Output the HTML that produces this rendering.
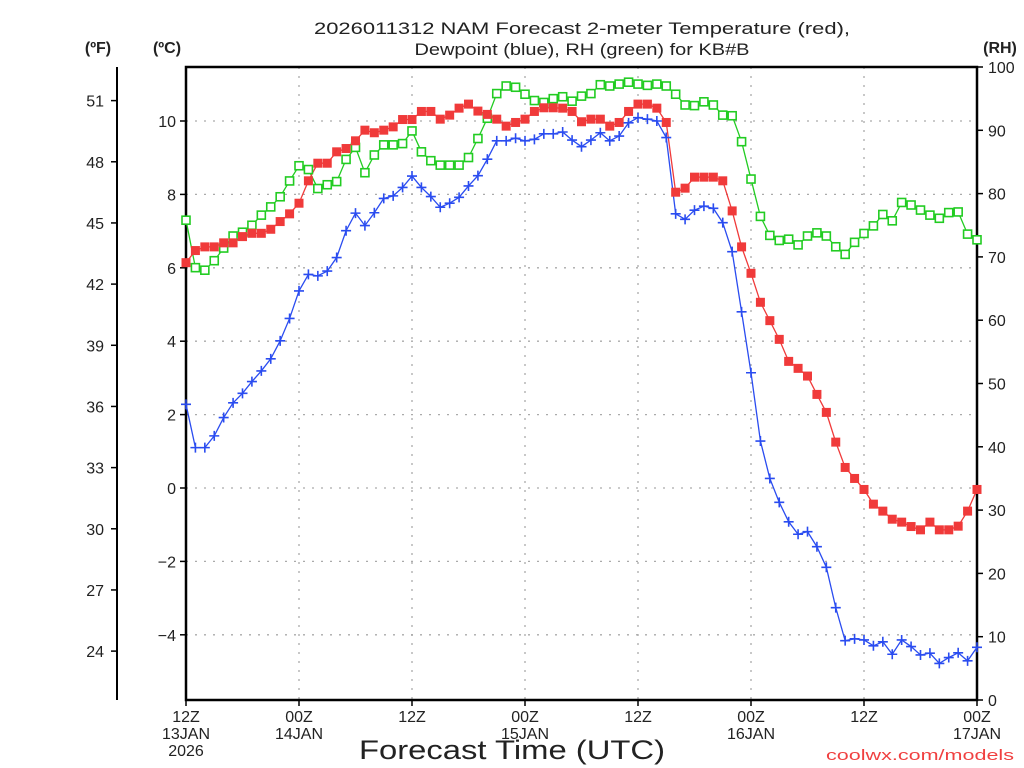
<!DOCTYPE html>
<html><head><meta charset="utf-8"><style>
html,body{margin:0;padding:0;background:#fff;}
svg{display:block;}
text{font-family:"Liberation Sans",sans-serif;fill:#222;}
</style></head><body>
<svg id="chart" width="1024" height="768" viewBox="0 0 1024 768" xmlns="http://www.w3.org/2000/svg">
<g id="grid"></g>
<g id="axes"></g>
<g id="series"></g>
<text x="582" y="34" text-anchor="middle" font-size="17" textLength="536" lengthAdjust="spacingAndGlyphs">2026011312 NAM Forecast 2-meter Temperature (red),</text>
<text x="582" y="55" text-anchor="middle" font-size="17" textLength="335" lengthAdjust="spacingAndGlyphs">Dewpoint (blue), RH (green) for KB#B</text>
<text x="98" y="53" text-anchor="middle" font-size="16" font-weight="bold" fill="#000">(ºF)</text>
<text x="167" y="53" text-anchor="middle" font-size="16" font-weight="bold" fill="#000">(ºC)</text>
<text x="1000" y="53" text-anchor="middle" font-size="16" font-weight="bold" fill="#000">(RH)</text>
<text x="512" y="759" text-anchor="middle" font-size="27" fill="#000" textLength="306" lengthAdjust="spacingAndGlyphs">Forecast Time (UTC)</text>
<text x="1014" y="760" text-anchor="end" font-size="15" style="fill:#f04040" textLength="188" lengthAdjust="spacingAndGlyphs">coolwx.com/models</text>
</svg>
<script>
const tempC=[6.14,6.47,6.57,6.57,6.68,6.68,6.85,6.94,6.94,7.05,7.26,7.47,7.76,8.37,8.85,8.85,9.16,9.25,9.46,9.75,9.68,9.75,9.84,10.04,10.04,10.26,10.26,10.05,10.16,10.35,10.46,10.27,10.18,10.05,9.86,9.96,10.05,10.26,10.36,10.36,10.35,10.26,9.98,10.05,10.05,9.86,9.96,10.26,10.46,10.46,10.35,9.96,8.06,8.17,8.47,8.47,8.47,8.37,7.55,6.57,5.85,5.06,4.56,4.05,3.45,3.26,3.05,2.55,2.06,1.25,0.56,0.26,-0.04,-0.44,-0.63,-0.85,-0.93,-1.05,-1.14,-0.93,-1.14,-1.14,-1.04,-0.63,-0.04];
const dewC=[2.28,1.10,1.10,1.42,1.92,2.32,2.58,2.90,3.19,3.52,4.01,4.62,5.37,5.82,5.78,5.91,6.28,7.01,7.49,7.15,7.50,7.89,7.96,8.19,8.50,8.19,7.94,7.65,7.76,7.92,8.23,8.51,8.96,9.46,9.46,9.53,9.46,9.50,9.65,9.65,9.70,9.48,9.30,9.48,9.68,9.46,9.59,9.95,10.09,10.05,10.0,9.55,7.47,7.32,7.57,7.68,7.62,7.23,6.44,4.80,3.14,1.28,0.26,-0.39,-0.92,-1.26,-1.19,-1.60,-2.16,-3.26,-4.16,-4.11,-4.14,-4.30,-4.19,-4.53,-4.14,-4.32,-4.55,-4.50,-4.78,-4.62,-4.49,-4.71,-4.34];
const rh=[75.8,68.3,67.9,69.4,71.4,73.3,73.9,75.0,76.6,77.9,79.5,82.0,84.4,83.8,80.8,81.4,81.9,85.4,87.3,83.3,86.1,87.7,87.7,87.9,89.9,86.6,85.2,84.5,84.5,84.5,85.7,88.7,91.9,95.8,97.0,96.8,95.7,94.7,94.4,95.0,95.3,94.6,95.4,95.8,97.2,97.0,97.3,97.6,97.3,97.1,97.3,97.0,95.7,94.0,93.9,94.5,94.0,92.4,92.3,88.2,82.3,76.4,73.4,72.6,72.8,71.9,73.3,73.8,73.3,71.6,70.4,72.3,73.7,74.9,76.7,75.7,78.6,78.2,77.4,76.6,76.1,77.0,77.1,73.6,72.7];
const celsiusTicks=[-4,-2,0,2,4,6,8,10];
const fahrenheitTicks=[24,27,30,33,36,39,42,45,48,51];
const rhTicks=[0,10,20,30,40,50,60,70,80,90,100];
const timeTicks=[0,12,24,36,48,60,72,84];
const timeLabels1=["12Z","00Z","12Z","00Z","12Z","00Z","12Z","00Z"];
const timeLabels2=["13JAN","14JAN","","15JAN","","16JAN","","17JAN"];
const timeLabels3=["2026","","","","","","",""];

const L=186,R=977,T=67,B=700,HOURS=84;
const xs=h=>L+(R-L)*h/HOURS;
const yC=c=>488-c*36.7;
const yRH=v=>B-(B-T)*v/100;
const yF=f=>yC((f-32)*5/9);
const NS="http://www.w3.org/2000/svg";
function mk(tag,parent,attrs){const e=document.createElementNS(NS,tag);for(const k in attrs)e.setAttribute(k,attrs[k]);parent.appendChild(e);return e;}
const grid=document.getElementById('grid'),axes=document.getElementById('axes'),series=document.getElementById('series');

celsiusTicks.forEach(c=>{
  const g=mk('line',grid,{x1:L,x2:R,y1:yC(c),y2:yC(c),stroke:'#aaa','stroke-width':1.3,'stroke-dasharray':'2 7'});
  
  
  const t=mk('line',axes,{x1:L-6,x2:L,y1:yC(c),y2:yC(c),stroke:'#000','stroke-width':1.5});
  
  
  const lb=mk('text',axes,{x:L-10,y:yC(c)+6,'text-anchor':'end','font-size':16});
  lb.textContent=c<0?'\u2212'+(-c):String(c);
  
  
});
timeTicks.forEach((h,i)=>{
  const g=mk('line',grid,{x1:xs(h),x2:xs(h),y1:T,y2:B,stroke:'#aaa','stroke-width':1.3,'stroke-dasharray':'2 7'});
  
  
  const t=mk('line',axes,{x1:xs(h),x2:xs(h),y1:B,y2:B+6,stroke:'#000','stroke-width':1.5});
  
  
  [timeLabels1[i],timeLabels2[i],timeLabels3[i]].forEach((s,j)=>{
    if(!s)return;
    const lb=mk('text',axes,{x:xs(h),y:722+j*17,'text-anchor':'middle','font-size':16});
    lb.textContent=s;
    
    
  });
});
fahrenheitTicks.forEach(f=>{
  const t=mk('line',axes,{x1:111,x2:117,y1:yF(f),y2:yF(f),stroke:'#000','stroke-width':1.5});
  
  
  const lb=mk('text',axes,{x:104,y:yF(f)+6,'text-anchor':'end','font-size':16});
  lb.textContent=String(f);
  
  
});
rhTicks.forEach(v=>{
  const t=mk('line',axes,{x1:R,x2:R+6,y1:yRH(v),y2:yRH(v),stroke:'#000','stroke-width':1.5});
  
  
  const lb=mk('text',axes,{x:988,y:yRH(v)+6,'font-size':16});
  lb.textContent=String(v);
  
  
});
const fax=mk('line',axes,{x1:117,x2:117,y1:T,y2:B,stroke:'#000','stroke-width':2});


const box=mk('rect',axes,{x:L,y:T,width:R-L,height:B-T,fill:'none',stroke:'#000','stroke-width':2.5});



function drawLine(vals,yf,color,name){
  const p=mk('polyline',series,{points:vals.map((v,i)=>xs(i)+','+yf(v)).join(' '),fill:'none',stroke:color,'stroke-width':1.3});
  
  
}
drawLine(rh,yRH,'#22cc22','rh');
drawLine(tempC,yC,'#f03a3a','temperature');
drawLine(dewC,yC,'#2a4cf0','dewpoint');
rh.forEach((v,i)=>{
  const m=mk('rect',series,{x:xs(i)-4,y:yRH(v)-4,width:8,height:8,fill:'#fff',stroke:'#22cc22','stroke-width':1.6});
  
  
});
tempC.forEach((v,i)=>{
  const m=mk('rect',series,{x:xs(i)-4.5,y:yC(v)-4.5,width:9,height:9,fill:'#f03a3a'});
  
  
});
dewC.forEach((v,i)=>{
  const x=xs(i),y=yC(v);
  const m=mk('path',series,{d:`M${x-5},${y}H${x+5}M${x},${y-5}V${y+5}`,stroke:'#2a4cf0','stroke-width':1.6,fill:'none'});
  
  
});
</script>
</body></html>
